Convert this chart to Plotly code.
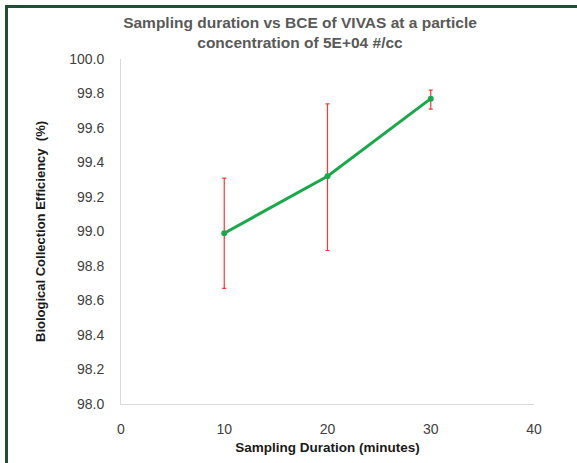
import plotly.graph_objects as go

durations = [10, 20, 30]
bce = [98.99, 99.32, 99.77]
err_plus = [0.32, 0.42, 0.05]
err_minus = [0.32, 0.43, 0.06]

x_ticks = [0, 10, 20, 30, 40]
y_ticks = [98.0, 98.2, 98.4, 98.6, 98.8, 99.0, 99.2, 99.4, 99.6, 99.8, 100.0]

W, H = 577, 463
L, R, T, B = 121, 43, 59, 59
pw, ph = W - L - R, H - T - B

fig = go.Figure()
fig.add_trace(go.Scatter(
    x=durations, y=bce, mode="lines+markers",
    line=dict(color="#19A84B", width=3),
    marker=dict(color="#19A84B", size=6),
    error_y=dict(type="data", symmetric=False, array=err_plus, arrayminus=err_minus,
                 color="#FF3333", thickness=1.2, width=2),
    showlegend=False,
))

def px_x(p):
    return (p - L) / pw

def px_y(p):
    return (H - B - p) / ph

fig.update_layout(
    width=W, height=H,
    margin=dict(l=L, r=R, t=T, b=B),
    paper_bgcolor="white", plot_bgcolor="white",
    font=dict(family="Liberation Sans, Arial, sans-serif", color="#595959", size=12),
    title=dict(
        text="<b>Sampling duration vs BCE of VIVAS at a particle<br>concentration of 5E+04 #/cc</b>",
        x=300 / W, xanchor="center", y=1 - 28 / H, yanchor="middle",
        font=dict(size=15.5, color="#595959"),
    ),
    xaxis=dict(
        range=[0, 40], tickvals=x_ticks, ticktext=[str(v) for v in x_ticks],
        showgrid=False, zeroline=False, showline=True, linecolor="#D9D9D9", linewidth=1,
        ticks="", ticklabelstandoff=12, tickfont=dict(size=14, color="#404040"),
        title=dict(text="<b>Sampling Duration (minutes)</b>", standoff=6,
                   font=dict(size=13.5, color="#1a1a1a")),
    ),
    yaxis=dict(
        range=[98.0, 100.0], tickvals=y_ticks, ticktext=[f"{v:.1f}" for v in y_ticks],
        showgrid=False, zeroline=False, showline=True, linecolor="#D9D9D9", linewidth=1,
        ticks="", ticklabelstandoff=13, tickfont=dict(size=14, color="#404040"),
        title=dict(text="<b>Biological Collection Efficiency  (%)</b>", standoff=20,
                   font=dict(size=13, color="#1a1a1a")),
    ),
    shapes=[
        dict(type="line", xref="paper", yref="paper",
             x0=px_x(6), x1=px_x(W + 5), y0=px_y(6.5), y1=px_y(6.5),
             line=dict(color="#1F4E33", width=3)),
        dict(type="line", xref="paper", yref="paper",
             x0=px_x(6.5), x1=px_x(6.5), y0=px_y(5), y1=px_y(H + 5),
             line=dict(color="#1F4E33", width=3)),
    ],
)

fig.write_html("out.html")
